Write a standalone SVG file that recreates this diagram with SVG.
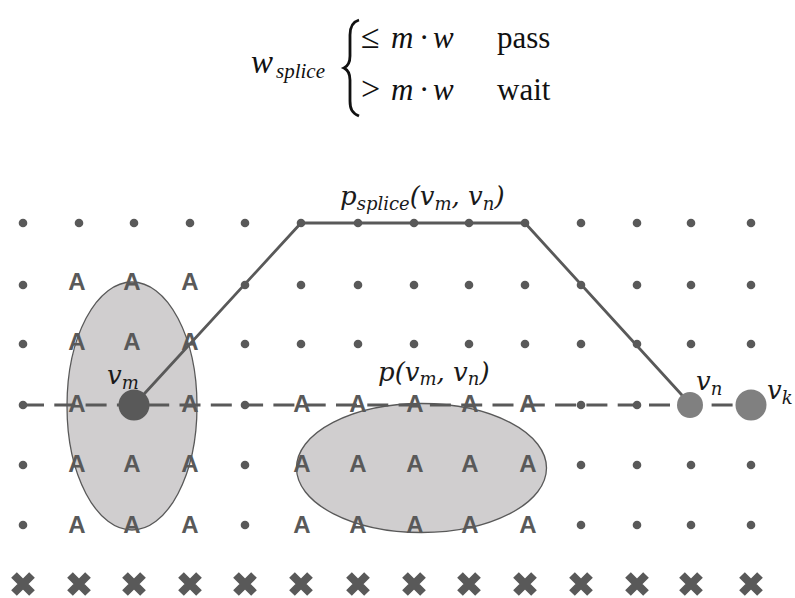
<svg xmlns="http://www.w3.org/2000/svg" xmlns:xlink="http://www.w3.org/1999/xlink" width="795" height="598" viewBox="0 0 795 598">
  <style>
    .dot { fill: #595959; }
    .ob { font-family: "Liberation Sans", Arial, sans-serif; font-weight: bold; font-size: 24px; fill: #595959; text-anchor: middle; }
    .blob { fill: #d0cecf; stroke: #595959; stroke-width: 1.3; }
    .path { fill: none; stroke: #595959; stroke-width: 2.8; stroke-linejoin: round; }
    .dash { fill: none; stroke: #595959; stroke-width: 3; stroke-dasharray: 21 10.3; }
    .lbl { font-family: "DejaVu Serif", serif; font-style: italic; font-size: 26px; fill: #1a1a1a; }
    .sub { font-size: 18px; }
    .fm { font-family: "Liberation Serif", "Times New Roman", serif; font-size: 31px; fill: #111; }
    .it { font-style: italic; }
    .xm { stroke: #595959; stroke-width: 8; fill: none; }
  </style>
  <defs>
    <path id="xmark" class="xm" d="M-9,-9 L9,9 M9,-9 L-9,9"/>
    <circle id="pt" class="dot" r="4.3"/>
  </defs>

  <!-- formula -->
  <g id="formula">
    <text class="fm"><tspan class="it" x="251" y="73" font-size="33">w</tspan><tspan class="it" x="276" y="78" font-size="21">splice</tspan></text>
    <path d="M359,20 C352,22 350,27 350,35 L350,56 C350,63 348,66 344,68 C348,70 350,73 350,80 L350,101 C350,109 352,113 359,116" fill="none" stroke="#111" stroke-width="2.8"/>
    <text class="fm"><tspan x="361" y="48" font-size="34">≤</tspan><tspan class="it" x="391" y="48">m</tspan><tspan x="419" y="48">·</tspan><tspan class="it" x="433" y="48">w</tspan><tspan x="497" y="48">pass</tspan></text>
    <text class="fm"><tspan x="361" y="100" font-size="34">&gt;</tspan><tspan class="it" x="391" y="100">m</tspan><tspan x="419" y="100">·</tspan><tspan class="it" x="433" y="100">w</tspan><tspan x="497" y="100">wait</tspan></text>
  </g>

  <!-- regions -->
  <g id="region-left">
    <ellipse class="blob" cx="132" cy="406" rx="65" ry="124"/>
  </g>
  <g id="region-mid">
    <ellipse class="blob" cx="421.5" cy="468" rx="125" ry="64.5"/>
  </g>

  <!-- connectors -->
  <g id="connectors">
    <line id="path-direct" class="dash" x1="23" y1="405" x2="751" y2="405"/>
    <polyline id="path-splice" class="path" points="134,405 301,223 525,223 691,405"/>
  </g>

  <!-- grid points -->
  <g id="grid">
    <use href="#pt" x="23" y="223"/><use href="#pt" x="79" y="223"/><use href="#pt" x="134" y="223"/><use href="#pt" x="190" y="223"/><use href="#pt" x="245" y="223"/><use href="#pt" x="301" y="223"/><use href="#pt" x="358" y="223"/><use href="#pt" x="414" y="223"/><use href="#pt" x="469" y="223"/><use href="#pt" x="525" y="223"/><use href="#pt" x="581" y="223"/><use href="#pt" x="637" y="223"/><use href="#pt" x="691" y="223"/><use href="#pt" x="751" y="223"/>
    <use href="#pt" x="23" y="285"/><use href="#pt" x="245" y="285"/><use href="#pt" x="301" y="285"/><use href="#pt" x="358" y="285"/><use href="#pt" x="414" y="285"/><use href="#pt" x="469" y="285"/><use href="#pt" x="525" y="285"/><use href="#pt" x="581" y="285"/><use href="#pt" x="637" y="285"/><use href="#pt" x="691" y="285"/><use href="#pt" x="751" y="285"/>
    <use href="#pt" x="23" y="344"/><use href="#pt" x="245" y="344"/><use href="#pt" x="301" y="344"/><use href="#pt" x="358" y="344"/><use href="#pt" x="414" y="344"/><use href="#pt" x="469" y="344"/><use href="#pt" x="525" y="344"/><use href="#pt" x="581" y="344"/><use href="#pt" x="637" y="344"/><use href="#pt" x="691" y="344"/><use href="#pt" x="751" y="344"/>
    <use href="#pt" x="23" y="405"/><use href="#pt" x="245" y="405"/><use href="#pt" x="581" y="405"/><use href="#pt" x="637" y="405"/>
    <use href="#pt" x="23" y="465"/><use href="#pt" x="245" y="465"/><use href="#pt" x="581" y="465"/><use href="#pt" x="637" y="465"/><use href="#pt" x="691" y="465"/><use href="#pt" x="751" y="465"/>
    <use href="#pt" x="23" y="525"/><use href="#pt" x="245" y="525"/><use href="#pt" x="581" y="525"/><use href="#pt" x="637" y="525"/><use href="#pt" x="691" y="525"/><use href="#pt" x="751" y="525"/>
  </g>

  <!-- obstacles -->
  <g id="obstacles" class="ob">
    <text x="77" y="290">A</text><text x="132" y="290">A</text><text x="190" y="290">A</text>
    <text x="77" y="350">A</text><text x="132" y="350">A</text><text x="190" y="350">A</text>
    <text x="77" y="412">A</text><text x="190" y="412">A</text><text x="302" y="412">A</text><text x="358" y="412">A</text><text x="415" y="412">A</text><text x="470" y="412">A</text><text x="528" y="412">A</text>
    <text x="77" y="472">A</text><text x="132" y="472">A</text><text x="190" y="472">A</text><text x="302" y="472">A</text><text x="358" y="472">A</text><text x="415" y="472">A</text><text x="470" y="472">A</text><text x="528" y="472">A</text>
    <text x="77" y="533">A</text><text x="132" y="533">A</text><text x="190" y="533">A</text><text x="302" y="533">A</text><text x="358" y="533">A</text><text x="415" y="533">A</text><text x="470" y="533">A</text><text x="528" y="533">A</text>
  </g>

  <!-- crosses -->
  <g id="crosses">
    <use href="#xmark" x="23" y="584"/><use href="#xmark" x="79" y="584"/><use href="#xmark" x="134" y="584"/><use href="#xmark" x="190" y="584"/><use href="#xmark" x="245" y="584"/><use href="#xmark" x="301" y="584"/><use href="#xmark" x="358" y="584"/><use href="#xmark" x="414" y="584"/><use href="#xmark" x="469" y="584"/><use href="#xmark" x="525" y="584"/><use href="#xmark" x="581" y="584"/><use href="#xmark" x="637" y="584"/><use href="#xmark" x="691" y="584"/><use href="#xmark" x="751" y="584"/>
  </g>

  <!-- nodes -->
  <g id="node-vm">
    <circle cx="134" cy="405" r="15.5" fill="#595959"/>
    <text class="lbl" x="107" y="384">v<tspan class="sub" dy="5">m</tspan></text>
  </g>
  <g id="node-vn">
    <circle cx="690" cy="405" r="13" fill="#808080"/>
    <text class="lbl" x="696" y="390">v<tspan class="sub" dy="5">n</tspan></text>
  </g>
  <g id="node-vk">
    <circle cx="751" cy="405" r="15.5" fill="#808080"/>
    <text class="lbl" x="767" y="399">v<tspan class="sub" dy="5">k</tspan></text>
  </g>

  <!-- path labels -->
  <g id="label-splice">
    <text class="lbl" x="340" y="205">p<tspan class="sub" dy="5">splice</tspan><tspan dy="-5">(v</tspan><tspan class="sub" dy="5">m</tspan><tspan dy="-5">, v</tspan><tspan class="sub" dy="5">n</tspan><tspan dy="-5">)</tspan></text>
  </g>
  <g id="label-direct">
    <text class="lbl" x="378" y="381">p(v<tspan class="sub" dy="4">m</tspan><tspan dy="-4">, v</tspan><tspan class="sub" dy="4">n</tspan><tspan dy="-4">)</tspan></text>
  </g>
</svg>
